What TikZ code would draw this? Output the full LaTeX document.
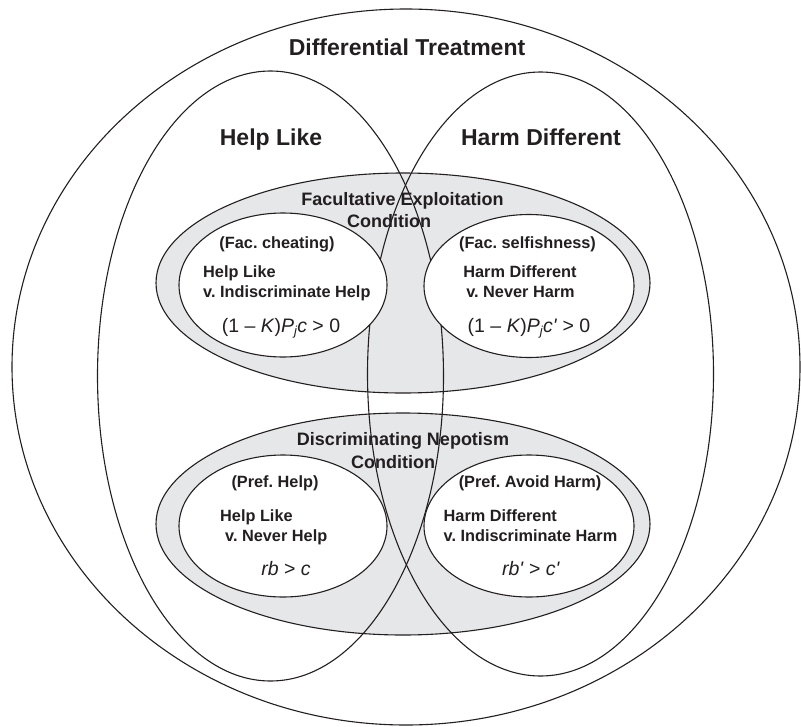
\documentclass[tikz,border=0pt]{standalone}
\usepackage{fontspec}
\setmainfont{Liberation Sans}
\usetikzlibrary{shapes.geometric}
\definecolor{shade}{RGB}{230,231,232}
\definecolor{ink}{RGB}{35,31,32}
\newcommand{\subj}{\raisebox{-3.8pt}{\fontsize{13}{13}\selectfont\textit{j}}}
\frenchspacing
\begin{document}
\begin{tikzpicture}[x=1pt,y=-1pt,
  ring/.style={ellipse, draw=ink, line width=1.1pt, inner sep=0pt, outer sep=0pt},
  big/.style={font=\fontsize{23}{26}\selectfont\bfseries, text=ink, inner sep=0pt},
  mid/.style={font=\fontsize{18}{21}\selectfont\bfseries, text=ink, inner sep=0pt},
  small/.style={font=\fontsize{16.3}{19}\selectfont\bfseries, text=ink, inner sep=0pt},
  formula/.style={font=\fontsize{19.5}{22}\selectfont, text=ink, inner sep=0pt},
]
\useasboundingbox (0,0) rectangle (801,726);
% outer set
\node[ring, minimum width=788pt, minimum height=716pt] (dt) at (406,367) {};
% grey condition ellipses
\node[ring, fill=shade, minimum width=494pt, minimum height=220pt] (fec) at (403,283) {};
\node[ring, fill=shade, minimum width=494pt, minimum height=222pt] (dnc) at (403,524) {};
% help like / harm different
\node[ring, minimum width=346pt, minimum height=610pt] (hl) at (270.5,376) {};
\node[ring, minimum width=346pt, minimum height=604pt] (hd) at (540.5,374) {};
% white inner ellipses
\node[ring, fill=white, minimum width=208pt, minimum height=144pt] (fcl) at (283,285) {};
\node[ring, fill=white, minimum width=210pt, minimum height=143pt] (fsr) at (529,286) {};
\node[ring, fill=white, minimum width=208pt, minimum height=142pt] (phl) at (283,526) {};
\node[ring, fill=white, minimum width=210pt, minimum height=142pt] (pah) at (529,526) {};
% texts
\node[big, anchor=base] (tdt) at (407,55) {Differential Treatment};
\node[big, anchor=base] (thl) at (271,145) {Help Like};
\node[big, anchor=base] (thd) at (541,145) {Harm Different};
\node[mid, anchor=base] (tfe1) at (402.5,205) {Facultative Exploitation};
\node[mid, anchor=base] (tfe2) at (389,227) {Condition};
\node[small, anchor=base] (tfc) at (277,248) {(Fac. cheating)};
\node[small, anchor=base west] (tfc1) at (203,277) {Help Like};
\node[small, anchor=base west] (tfc2) at (203,297) {v. Indiscriminate Help};
\node[formula, anchor=base] (tfc3) at (281,332) {(1 – \textit{K})\textit{P}\subj\textit{c} > 0};
\node[small, anchor=base] (tfs) at (527.5,248) {(Fac. selfishness)};
\node[small, anchor=base] (tfs1) at (520,277) {Harm Different};
\node[small, anchor=base] (tfs2) at (520.5,297) {v. Never Harm};
\node[formula, anchor=base] (tfs3) at (529,332) {(1 – \textit{K})\textit{P}\subj\textit{c\textquotesingle} > 0};
\node[mid, anchor=base] (tdn1) at (403,445.5) {Discriminating Nepotism};
\node[mid, anchor=base] (tdn2) at (393,468) {Condition};
\node[small, anchor=base] (tph) at (275,487) {(Pref. Help)};
\node[small, anchor=base west] (tph1) at (220,521.5) {Help Like};
\node[small, anchor=base west] (tph2) at (225,541.5) {v. Never Help};
\node[formula, anchor=base] (tph3) at (286,575) {\textit{rb} > \textit{c}};
\node[small, anchor=base] (tpa) at (530,487) {(Pref. Avoid Harm)};
\node[small, anchor=base west] (tpa1) at (443.5,521.5) {Harm Different};
\node[small, anchor=base west] (tpa2) at (443.5,541.5) {v. Indiscriminate Harm};
\node[formula, anchor=base] (tpa3) at (531,575) {\textit{rb\textquotesingle} > \textit{c\textquotesingle}};
\end{tikzpicture}
\end{document}
